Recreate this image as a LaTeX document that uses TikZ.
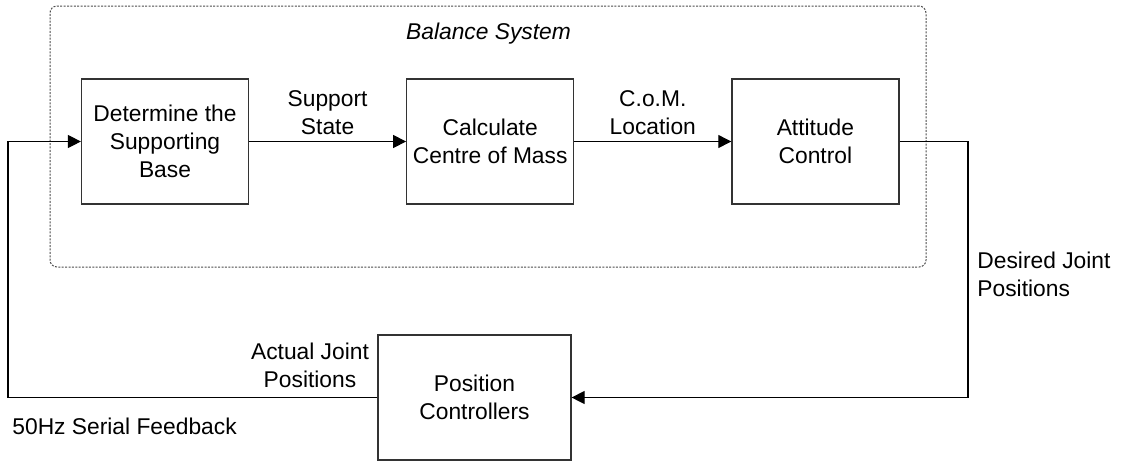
\documentclass[tikz,border=0pt]{standalone}
\usepackage{fontspec}
\setmainfont{Liberation Sans}
\usetikzlibrary{arrows.meta,positioning}

\begin{document}
\begin{tikzpicture}[
  x=0.5pt,y=-0.5pt,
  node distance=78.5pt,
  font=\fontsize{11.4}{14}\selectfont,
  blk/.style={rectangle,draw=black!80,line width=0.6pt,align=center,minimum width=83.5pt,minimum height=62.5pt,inner sep=2pt},
  lbl/.style={align=center,inner sep=1pt},
  arr/.style={-{Triangle[length=6.5pt,width=6.5pt]},line width=0.6pt},
  group/.style={draw=black!70,dash pattern=on 1pt off 0.7pt,rounded corners=3.5pt,line width=0.5pt,minimum width=438pt,minimum height=130.5pt}
]
\useasboundingbox (0,0) rectangle (1124,462);
% balance system
\node[group] (sys) at (488,136.5) {};
\node[lbl,font=\fontsize{11.4}{14}\selectfont\itshape,anchor=base] (title) at (488.5,39) {Balance System};
\node[blk] (base) at (165,141.5) {Determine the\\Supporting\\Base};
\node[blk,right=of base] (com) {Calculate\\Centre of Mass};
\node[blk,right=of com] (att) {Attitude\\Control};
% servo loop
\node[blk,minimum width=96.5pt] (pos) at (474.5,397.5) {Position\\Controllers};
\coordinate (dj) at (968,141.5);
\coordinate (fb) at (8,397.5);
\draw[arr] (base) -- node[lbl,above=2pt] {Support\\State} (com);
\draw[arr] (com) -- node[lbl,above=2pt] {C.o.M.\\Location} (att);
\draw[arr] (att.east) -- (dj) |- (pos.east);
\draw[arr] (pos.west) -- (fb) |- (base.west);
\node[lbl,anchor=north west,align=left] (desired) at (975,250) {Desired Joint\\Positions};
\node[lbl,anchor=south] (actual) at (310,390) {Actual Joint\\Positions};
\node[lbl,anchor=north west,align=left] (serial) at (10,416) {50Hz Serial Feedback};
\end{tikzpicture}
\end{document}
